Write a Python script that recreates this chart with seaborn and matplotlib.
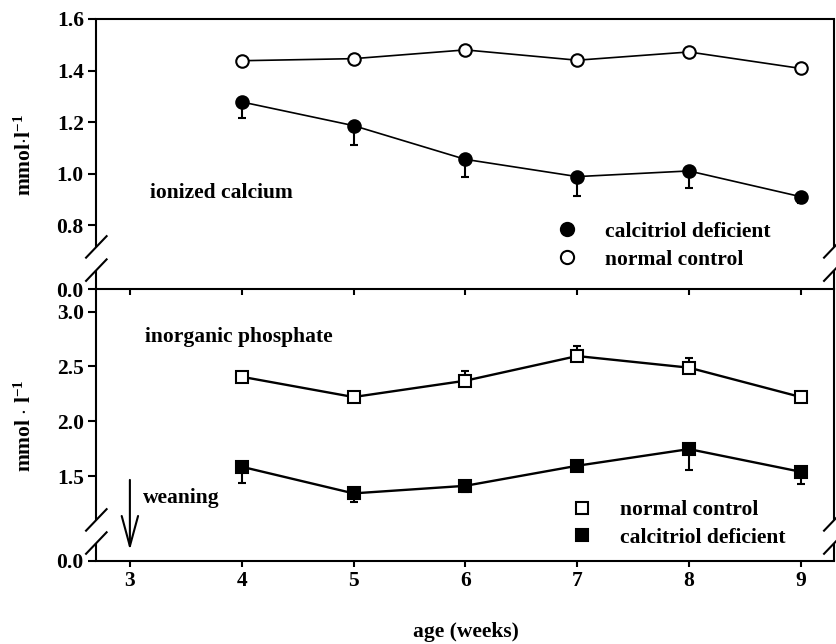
import numpy as np
import seaborn as sns
import matplotlib
matplotlib.use("Agg")
import matplotlib.pyplot as plt
from matplotlib.lines import Line2D
from matplotlib.transforms import blended_transform_factory

# age in weeks
weeks = [4, 5, 6, 7, 8, 9]

# ionized calcium (mmol/l), mean and one-sided SEM
ca_deficient = [1.278, 1.186, 1.055, 0.988, 1.010, 0.910]
ca_deficient_err = [0.062, 0.074, 0.067, 0.075, 0.068, 0.026]
ca_control = [1.438, 1.446, 1.480, 1.440, 1.472, 1.408]
ca_control_err = [0.008, 0.008, 0.012, 0.012, 0.008, 0.006]

# inorganic phosphate (mmol/l)
pi_control = [2.406, 2.221, 2.370, 2.595, 2.489, 2.221]
pi_control_err = [0.045, 0.04, 0.09, 0.09, 0.09, 0.03]
pi_deficient = [1.585, 1.342, 1.411, 1.594, 1.746, 1.539]
pi_deficient_err = [0.15, 0.08, 0.06, 0.04, 0.19, 0.11]

top_yticks = [0.0, 0.8, 1.0, 1.2, 1.4, 1.6]
bot_yticks = [0.0, 1.5, 2.0, 2.5, 3.0]
xticks = [3, 4, 5, 6, 7, 8, 9]

sns.set_style("ticks")
plt.rcParams["font.family"] = ["Liberation Serif", "DejaVu Serif"]
plt.rcParams["font.weight"] = "bold"
plt.rcParams["font.size"] = 15.5
plt.rcParams["text.color"] = "black"
plt.rcParams["axes.edgecolor"] = "black"
plt.rcParams["axes.labelcolor"] = "black"
plt.rcParams["xtick.color"] = "black"
plt.rcParams["ytick.color"] = "black"
plt.rcParams["mathtext.fontset"] = "custom"
plt.rcParams["mathtext.rm"] = "Liberation Serif:bold"
plt.rcParams["mathtext.default"] = "rm"


def broken_scale(cut, k):
    # linear above `cut`, compressed below it (axis break)
    def fwd(y):
        y = np.asarray(y, float)
        return np.where(y >= cut, y, cut - (cut - y) * k)

    def inv(t):
        t = np.asarray(t, float)
        return np.where(t >= cut, t, cut - (cut - t) / k)
    return fwd, inv


def draw_side_spines(ax, lo, hi, dx, dy):
    kw = dict(transform=ax.transAxes, color="black", lw=1.5, clip_on=False,
              solid_capstyle="butt")
    for xs in (0, 1):
        ax.add_line(Line2D([xs, xs], [0, lo], **kw))
        ax.add_line(Line2D([xs, xs], [hi, 1], **kw))
        for yc in (lo, hi):
            ax.add_line(Line2D([xs - dx, xs + dx], [yc - dy, yc + dy], **kw))


def style_axes(ax):
    ax.set_xlim(2.7, 9.3)
    ax.set_xticks(xticks)
    for s in ("left", "right"):
        ax.spines[s].set_visible(False)
    ax.spines["bottom"].set_linewidth(1.5)
    ax.spines["top"].set_linewidth(1.5)
    ax.tick_params(axis="y", direction="out", length=5.5, width=1.5, right=False)
    ax.tick_params(axis="x", direction="out", length=4, width=1.5, top=False)


def plot_series(ax, y, err, marker, filled, ms, lw, below):
    lower = err if below else [0] * len(err)
    upper = [0] * len(err) if below else err
    ax.errorbar(weeks, y, yerr=[lower, upper], fmt="none", ecolor="black",
                elinewidth=1.5, capsize=3, capthick=1.5, zorder=2)
    sns.lineplot(x=weeks, y=y, ax=ax, color="black", linewidth=lw,
                 marker=marker, markersize=ms,
                 markerfacecolor="black" if filled else "white",
                 markeredgecolor="black", markeredgewidth=1.5, zorder=3)


fig = plt.figure(figsize=(8.37, 6.44), dpi=100)
ax2 = fig.add_axes([0.1151, 0.1289, 0.8817, 0.4224])
ax1 = fig.add_axes([0.1151, 0.5512, 0.8817, 0.4193])
ax2.patch.set_visible(False)
ax1.patch.set_visible(False)

# top panel: ionized calcium
f, i = broken_scale(0.75, 0.2647)
ax1.set_yscale("function", functions=(f, i))
ax1.set_ylim(0, 1.6)
style_axes(ax1)
ax1.set_yticks(top_yticks, [f"{t:.1f}" for t in top_yticks])
ax1.set_xticklabels([])
plot_series(ax1, ca_deficient, ca_deficient_err, "o", True, 9, 1.2, True)
plot_series(ax1, ca_control, ca_control_err, "o", False, 9, 1.2, False)
draw_side_spines(ax1, 0.070, 0.156, 0.0149, 0.0426)
ax1.text(3.18, 0.924, "ionized calcium", ha="left", va="center")
h1 = [Line2D([], [], ls="none", marker="o", ms=9.5, mfc="black", mec="black", mew=1.5),
      Line2D([], [], ls="none", marker="o", ms=9.5, mfc="white", mec="black", mew=1.5)]
ax1.legend(h1, ["calcitriol deficient", "normal control"], loc="center left",
           bbox_to_anchor=(0.623, 0.160), frameon=False, borderpad=0,
           borderaxespad=0, handlelength=1.0, handletextpad=1.27,
           labelspacing=0.36, fontsize=15.5)

# bottom panel: inorganic phosphate
f, i = broken_scale(1.2, 0.3957)
ax2.set_yscale("function", functions=(f, i))
ax2.set_ylim(0, 3.207)
style_axes(ax2)
ax2.spines["top"].set_visible(False)
ax2.set_yticks(bot_yticks, [f"{t:.1f}" for t in bot_yticks])
ax2.set_xticklabels([str(x) for x in xticks])
plot_series(ax2, pi_control, pi_control_err, "s", False, 8, 1.7, False)
plot_series(ax2, pi_deficient, pi_deficient_err, "s", True, 8, 1.7, True)
draw_side_spines(ax2, 0.066, 0.151, 0.0149, 0.0423)
ax2.text(3.134, 2.77, "inorganic phosphate", ha="left", va="center")
bt = blended_transform_factory(ax2.transData, ax2.transAxes)
ax2.text(3.116, 0.232, "weaning", ha="left", va="center", transform=bt)
ax2.annotate("", xy=(3, 0.04), xytext=(3, 0.298), xycoords=bt, textcoords=bt,
             arrowprops=dict(arrowstyle="->,head_length=1.4,head_width=0.38",
                             lw=1.5, color="black", shrinkA=0, shrinkB=0))
h2 = [Line2D([], [], ls="none", marker="s", ms=9, mfc="white", mec="black", mew=1.5),
      Line2D([], [], ls="none", marker="s", ms=9, mfc="black", mec="black", mew=1.5)]
ax2.legend(h2, ["normal control", "calcitriol deficient"], loc="center left",
           bbox_to_anchor=(0.643, 0.136), frameon=False, borderpad=0,
           borderaxespad=0, handlelength=1.0, handletextpad=1.27,
           labelspacing=0.36, fontsize=15.5)

for ax in (ax1, ax2):
    ax.set_xlabel("")
    ax.set_ylabel("")

fig.text(0.0299, 0.7593, r"mmol$\cdot$l$^{-1}$", rotation=90, ha="center", va="center")
fig.text(0.0299, 0.3385, r"mmol $\cdot$ l$^{-1}$", rotation=90, ha="center", va="center")
fig.text(0.5568, 0.0186, "age (weeks)", ha="center", va="center")

fig.savefig("out.png", dpi=100)
